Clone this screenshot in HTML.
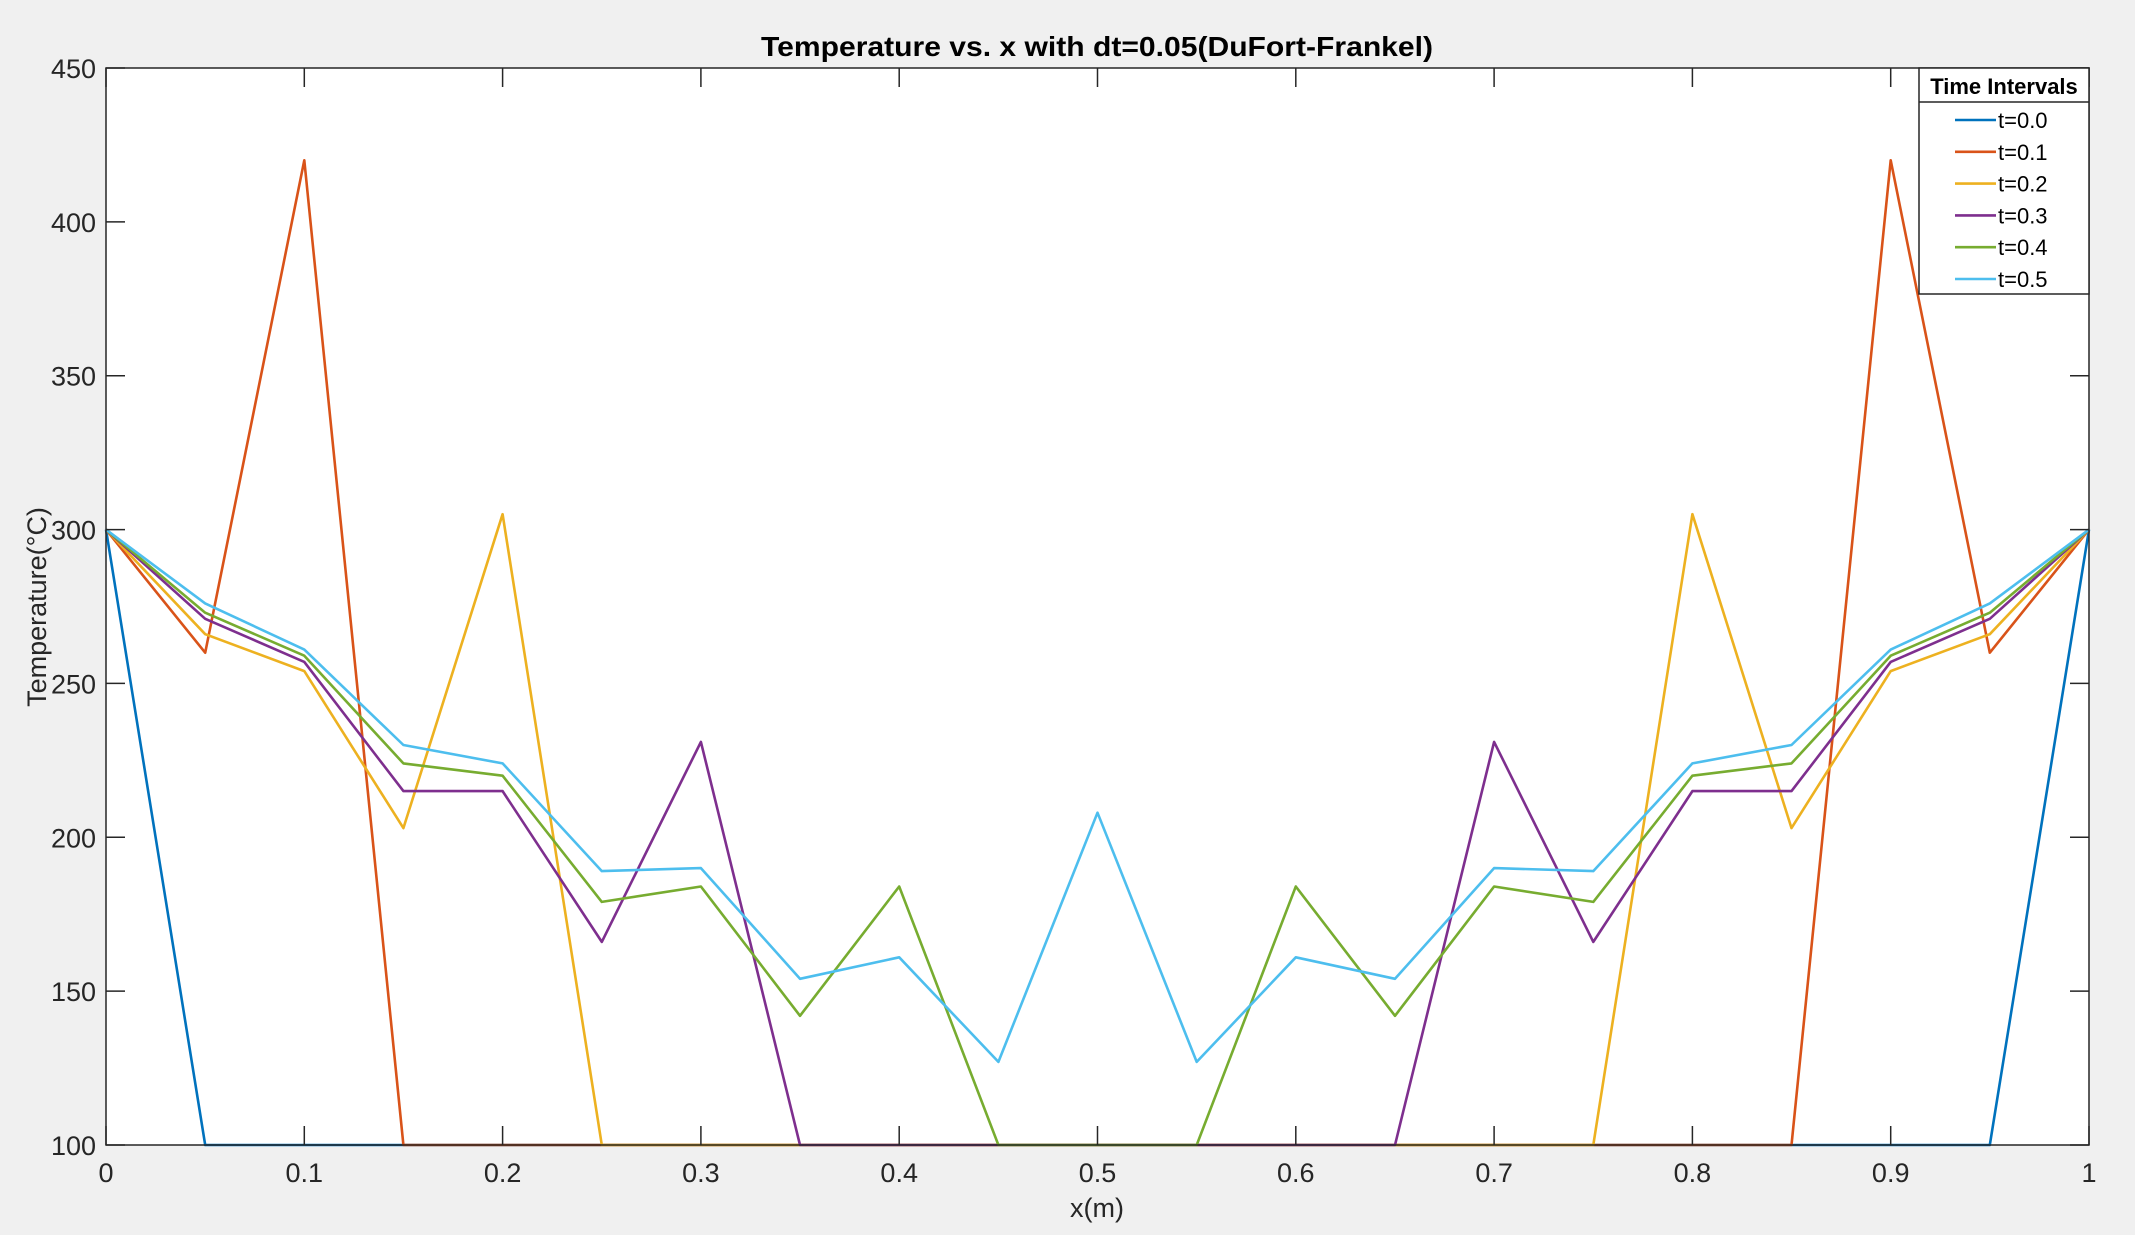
<!DOCTYPE html>
<html><head><meta charset="utf-8"><style>
html,body{margin:0;padding:0;background:#f0f0f0;}
svg{display:block;font-family:"Liberation Sans",Arial,sans-serif;}
</style></head><body>
<svg id="chart" width="2135" height="1235" viewBox="0 0 2135 1235" xmlns="http://www.w3.org/2000/svg">
<rect x="0" y="0" width="2135" height="1235" fill="#f0f0f0"/>
<rect x="106" y="68" width="1983" height="1077" fill="#ffffff"/>
<g id="series"></g>
<g id="axes"></g>
<text x="1097" y="56" text-anchor="middle" font-size="28" font-weight="bold" fill="#000" textLength="672" lengthAdjust="spacingAndGlyphs">Temperature vs. x with dt=0.05(DuFort-Frankel)</text>
<text x="1097" y="1217" text-anchor="middle" font-size="27" fill="#262626">x(m)</text>
<text x="0" y="0" transform="translate(46,607) rotate(-90)" text-anchor="middle" font-size="27" fill="#262626">Temperature(°C)</text>
<g id="legend"></g>
</svg>
<script>
const xs = [0,0.05,0.1,0.15,0.2,0.25,0.3,0.35,0.4,0.45,0.5,0.55,0.6,0.65,0.7,0.75,0.8,0.85,0.9,0.95,1];
const seriesNames = ["t=0.0","t=0.1","t=0.2","t=0.3","t=0.4","t=0.5"];
const t0 = [300,100,100,100,100,100,100,100,100,100,100,100,100,100,100,100,100,100,100,100,300];
const t1 = [300,260,420,100,100,100,100,100,100,100,100,100,100,100,100,100,100,100,420,260,300];
const t2 = [300,266,254,203,305,100,100,100,100,100,100,100,100,100,100,100,305,203,254,266,300];
const t3 = [300,271,257,215,215,166,231,100,100,100,100,100,100,100,231,166,215,215,257,271,300];
const t4 = [300,273,259,224,220,179,184,142,184,100,100,100,184,142,184,179,220,224,259,273,300];
const t5 = [300,276,261,230,224,189,190,154,161,127,208,127,161,154,190,189,224,230,261,276,300];
const xTicks = [0,0.1,0.2,0.3,0.4,0.5,0.6,0.7,0.8,0.9,1];
const xTickLabels = ["0","0.1","0.2","0.3","0.4","0.5","0.6","0.7","0.8","0.9","1"];
const yTicks = [100,150,200,250,300,350,400,450];
const colors = ["#0072bd","#d95319","#edb120","#7e2f8e","#77ac30","#4dbeee"];
const allSeries = [t0,t1,t2,t3,t4,t5];
const L=106,R=2089,T=68,B=1145;
const X = v => L + (v-0)/(1-0)*(R-L);
const Y = v => B - (v-100)/(450-100)*(B-T);
const NS="http://www.w3.org/2000/svg";
function mk(tag, attrs, parent){const e=document.createElementNS(NS,tag);for(const k in attrs)e.setAttribute(k,attrs[k]);parent.appendChild(e);return e;}
const sg=document.getElementById('series');
allSeries.forEach((s,i)=>{
  const p=mk('polyline',{points:s.map((v,j)=>X(xs[j]).toFixed(1)+','+Y(v).toFixed(1)).join(' '),fill:'none',stroke:colors[i],'stroke-width':2.6,'stroke-linejoin':'round'},sg);
  
  
});
const ax=document.getElementById('axes');
const box=mk('rect',{x:L,y:T,width:R-L,height:B-T,fill:'none',stroke:'#262626','stroke-width':1.5},ax);


xTicks.forEach((v,i)=>{
  const x=X(v);
  const t1e=mk('line',{x1:x,y1:B,x2:x,y2:B-19,stroke:'#262626','stroke-width':1.5},ax);
  
  
  const t2e=mk('line',{x1:x,y1:T,x2:x,y2:T+19,stroke:'#262626','stroke-width':1.5},ax);
  
  
  const tx=mk('text',{x:x,y:1182,'text-anchor':'middle','font-size':27,fill:'#262626'},ax);
  tx.textContent=xTickLabels[i];
  
  
});
yTicks.forEach(v=>{
  const y=Y(v);
  const a=mk('line',{x1:L,y1:y,x2:L+19,y2:y,stroke:'#262626','stroke-width':1.5},ax);
  
  
  const b=mk('line',{x1:R,y1:y,x2:R-19,y2:y,stroke:'#262626','stroke-width':1.5},ax);
  
  
  const tx=mk('text',{x:96,y:y+10,'text-anchor':'end','font-size':27,fill:'#262626'},ax);
  tx.textContent=String(v);
  
  
});
const lg=document.getElementById('legend');
const lb=mk('rect',{x:1919,y:68,width:170,height:226,fill:'#ffffff',stroke:'#262626','stroke-width':1.5},lg);


const ls=mk('line',{x1:1919,y1:102,x2:2089,y2:102,stroke:'#262626','stroke-width':1.5},lg);


const lt=mk('text',{x:2004,y:94,'text-anchor':'middle','font-size':22,'font-weight':'bold',fill:'#000'},lg);
lt.textContent='Time Intervals';


seriesNames.forEach((n,i)=>{
  const y=120+i*31.8;
  const g=mk('g',{},lg);
  
  
  mk('line',{x1:1955,y1:y,x2:1996,y2:y,stroke:colors[i],'stroke-width':2.6},g);
  const t=mk('text',{x:1998,y:y+8,'font-size':22,fill:'#000'},g);
  t.textContent=n;
});
</script>
</body></html>
